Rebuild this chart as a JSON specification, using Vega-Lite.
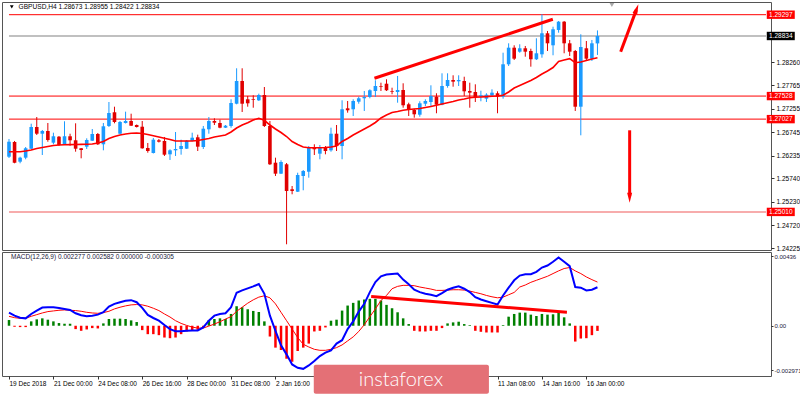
{
"$schema":"https://vega.github.io/schema/vega-lite/v6.json",
"padding":{"left":1,"top":1,"right":0,"bottom":0},
"background":"white",
"bounds":"flush",
"spacing":2,
"config":{"view":{"stroke":"#555555","strokeWidth":1},"font":"Liberation Sans"},
"datasets":{
"candles":[
{"i":0,"o":1.26210,"h":1.26595,"l":1.26182,"c":1.26536,"ma":1.26319},
{"i":1,"o":1.26530,"h":1.26552,"l":1.26067,"c":1.26080,"ma":1.26319},
{"i":2,"o":1.26102,"h":1.26210,"l":1.26067,"c":1.26189,"ma":1.26319},
{"i":3,"o":1.26189,"h":1.26421,"l":1.26154,"c":1.26393,"ma":1.26334},
{"i":4,"o":1.26384,"h":1.26928,"l":1.26378,"c":1.26856,"ma":1.26356},
{"i":5,"o":1.26856,"h":1.27073,"l":1.26682,"c":1.26710,"ma":1.26389},
{"i":6,"o":1.26710,"h":1.26791,"l":1.26247,"c":1.26769,"ma":1.26410},
{"i":7,"o":1.26769,"h":1.26943,"l":1.26536,"c":1.26573,"ma":1.26432},
{"i":8,"o":1.26515,"h":1.26732,"l":1.26480,"c":1.26654,"ma":1.26454},
{"i":9,"o":1.26645,"h":1.26660,"l":1.26443,"c":1.26465,"ma":1.26465},
{"i":10,"o":1.26480,"h":1.26980,"l":1.26465,"c":1.26654,"ma":1.26469},
{"i":11,"o":1.26654,"h":1.26710,"l":1.26449,"c":1.26567,"ma":1.26473},
{"i":12,"o":1.26567,"h":1.26936,"l":1.26319,"c":1.26384,"ma":1.26476},
{"i":13,"o":1.26393,"h":1.26399,"l":1.26175,"c":1.26356,"ma":1.26478},
{"i":14,"o":1.26428,"h":1.26610,"l":1.26378,"c":1.26573,"ma":1.26480},
{"i":15,"o":1.26558,"h":1.26812,"l":1.26552,"c":1.26704,"ma":1.26487},
{"i":16,"o":1.26704,"h":1.26726,"l":1.26465,"c":1.26480,"ma":1.26508},
{"i":17,"o":1.26480,"h":1.26943,"l":1.26349,"c":1.26871,"ma":1.26541},
{"i":18,"o":1.26878,"h":1.27399,"l":1.26856,"c":1.27160,"ma":1.26606},
{"i":19,"o":1.27176,"h":1.27297,"l":1.26936,"c":1.26965,"ma":1.26649},
{"i":20,"o":1.26710,"h":1.26986,"l":1.26704,"c":1.26965,"ma":1.26682},
{"i":21,"o":1.26943,"h":1.27189,"l":1.26932,"c":1.26986,"ma":1.26704},
{"i":22,"o":1.26986,"h":1.27145,"l":1.26878,"c":1.26884,"ma":1.26721},
{"i":23,"o":1.26899,"h":1.26910,"l":1.26845,"c":1.26856,"ma":1.26726},
{"i":24,"o":1.26862,"h":1.26986,"l":1.26384,"c":1.26393,"ma":1.26713},
{"i":25,"o":1.26399,"h":1.26508,"l":1.26297,"c":1.26334,"ma":1.26693},
{"i":26,"o":1.26291,"h":1.26617,"l":1.26280,"c":1.26580,"ma":1.26665},
{"i":27,"o":1.26567,"h":1.26595,"l":1.26519,"c":1.26536,"ma":1.26639},
{"i":28,"o":1.26552,"h":1.26639,"l":1.26226,"c":1.26254,"ma":1.26612},
{"i":29,"o":1.26262,"h":1.26371,"l":1.26139,"c":1.26349,"ma":1.26584},
{"i":30,"o":1.26349,"h":1.26747,"l":1.26226,"c":1.26378,"ma":1.26552},
{"i":31,"o":1.26378,"h":1.26580,"l":1.26254,"c":1.26443,"ma":1.26552},
{"i":32,"o":1.26384,"h":1.26573,"l":1.26378,"c":1.26558,"ma":1.26552},
{"i":33,"o":1.26552,"h":1.26732,"l":1.26545,"c":1.26623,"ma":1.26552},
{"i":34,"o":1.26632,"h":1.26689,"l":1.26334,"c":1.26428,"ma":1.26562},
{"i":35,"o":1.26421,"h":1.26878,"l":1.26378,"c":1.26819,"ma":1.26584},
{"i":36,"o":1.26806,"h":1.27073,"l":1.26710,"c":1.26986,"ma":1.26606},
{"i":37,"o":1.26986,"h":1.27045,"l":1.26899,"c":1.26949,"ma":1.26639},
{"i":38,"o":1.26943,"h":1.27015,"l":1.26828,"c":1.26841,"ma":1.26660},
{"i":39,"o":1.26841,"h":1.26899,"l":1.26834,"c":1.26884,"ma":1.26682},
{"i":40,"o":1.26878,"h":1.27458,"l":1.26841,"c":1.27378,"ma":1.26747},
{"i":41,"o":1.27362,"h":1.28132,"l":1.27349,"c":1.27856,"ma":1.26834},
{"i":42,"o":1.27856,"h":1.28132,"l":1.27182,"c":1.27362,"ma":1.26899},
{"i":43,"o":1.27458,"h":1.27530,"l":1.27297,"c":1.27371,"ma":1.26949},
{"i":44,"o":1.27458,"h":1.27545,"l":1.27275,"c":1.27443,"ma":1.27008},
{"i":45,"o":1.27436,"h":1.27580,"l":1.27421,"c":1.27552,"ma":1.27045},
{"i":46,"o":1.27552,"h":1.27725,"l":1.26856,"c":1.26878,"ma":1.27002},
{"i":47,"o":1.26878,"h":1.26986,"l":1.26030,"c":1.26045,"ma":1.26899},
{"i":48,"o":1.26080,"h":1.26189,"l":1.25791,"c":1.25841,"ma":1.26812},
{"i":49,"o":1.25841,"h":1.26132,"l":1.25834,"c":1.26095,"ma":1.26736},
{"i":50,"o":1.26045,"h":1.26073,"l":1.24306,"c":1.25465,"ma":1.26649},
{"i":51,"o":1.25502,"h":1.25573,"l":1.25393,"c":1.25465,"ma":1.26541},
{"i":52,"o":1.25449,"h":1.25862,"l":1.25443,"c":1.25812,"ma":1.26476},
{"i":53,"o":1.25791,"h":1.25921,"l":1.25480,"c":1.25899,"ma":1.26421},
{"i":54,"o":1.25884,"h":1.26443,"l":1.25754,"c":1.26421,"ma":1.26406},
{"i":55,"o":1.26421,"h":1.26480,"l":1.26247,"c":1.26371,"ma":1.26406},
{"i":56,"o":1.26276,"h":1.26465,"l":1.26154,"c":1.26406,"ma":1.26406},
{"i":57,"o":1.26421,"h":1.26443,"l":1.26262,"c":1.26334,"ma":1.26410},
{"i":58,"o":1.26349,"h":1.26841,"l":1.26319,"c":1.26710,"ma":1.26421},
{"i":59,"o":1.26710,"h":1.26899,"l":1.26334,"c":1.26443,"ma":1.26443},
{"i":60,"o":1.26443,"h":1.27436,"l":1.26154,"c":1.27241,"ma":1.26541},
{"i":61,"o":1.27262,"h":1.27421,"l":1.27167,"c":1.27219,"ma":1.26606},
{"i":62,"o":1.27241,"h":1.27458,"l":1.27095,"c":1.27421,"ma":1.26682},
{"i":63,"o":1.27406,"h":1.27515,"l":1.27362,"c":1.27480,"ma":1.26747},
{"i":64,"o":1.27480,"h":1.27639,"l":1.27204,"c":1.27508,"ma":1.26812},
{"i":65,"o":1.27508,"h":1.27675,"l":1.27480,"c":1.27654,"ma":1.26878},
{"i":66,"o":1.27639,"h":1.27871,"l":1.27508,"c":1.27747,"ma":1.26954},
{"i":67,"o":1.27747,"h":1.27819,"l":1.27639,"c":1.27732,"ma":1.27052},
{"i":68,"o":1.27797,"h":1.27893,"l":1.27639,"c":1.27654,"ma":1.27117},
{"i":69,"o":1.27639,"h":1.27710,"l":1.27567,"c":1.27623,"ma":1.27171},
{"i":70,"o":1.27617,"h":1.27965,"l":1.27384,"c":1.27660,"ma":1.27193},
{"i":71,"o":1.27660,"h":1.27806,"l":1.27275,"c":1.27328,"ma":1.27219},
{"i":72,"o":1.27349,"h":1.27384,"l":1.27095,"c":1.27225,"ma":1.27236},
{"i":73,"o":1.27225,"h":1.27254,"l":1.27058,"c":1.27132,"ma":1.27247},
{"i":74,"o":1.27123,"h":1.27415,"l":1.27080,"c":1.27371,"ma":1.27258},
{"i":75,"o":1.27362,"h":1.27458,"l":1.27312,"c":1.27421,"ma":1.27280},
{"i":76,"o":1.27399,"h":1.27762,"l":1.27312,"c":1.27530,"ma":1.27302},
{"i":77,"o":1.27515,"h":1.27589,"l":1.27154,"c":1.27341,"ma":1.27328},
{"i":78,"o":1.27341,"h":1.28023,"l":1.27328,"c":1.27747,"ma":1.27356},
{"i":79,"o":1.27747,"h":1.28023,"l":1.27710,"c":1.27878,"ma":1.27382},
{"i":80,"o":1.27878,"h":1.27980,"l":1.27732,"c":1.27841,"ma":1.27410},
{"i":81,"o":1.27849,"h":1.27980,"l":1.27747,"c":1.27878,"ma":1.27443},
{"i":82,"o":1.27856,"h":1.27949,"l":1.27530,"c":1.27632,"ma":1.27465},
{"i":83,"o":1.27639,"h":1.27819,"l":1.27275,"c":1.27602,"ma":1.27493},
{"i":84,"o":1.27617,"h":1.27784,"l":1.27399,"c":1.27502,"ma":1.27502},
{"i":85,"o":1.27515,"h":1.27645,"l":1.27415,"c":1.27545,"ma":1.27508},
{"i":86,"o":1.27471,"h":1.27589,"l":1.27399,"c":1.27558,"ma":1.27515},
{"i":87,"o":1.27545,"h":1.27675,"l":1.27515,"c":1.27602,"ma":1.27523},
{"i":88,"o":1.27589,"h":1.27632,"l":1.27154,"c":1.27515,"ma":1.27530},
{"i":89,"o":1.27515,"h":1.28471,"l":1.27471,"c":1.28219,"ma":1.27545},
{"i":90,"o":1.28219,"h":1.28675,"l":1.28182,"c":1.28580,"ma":1.27617},
{"i":91,"o":1.28580,"h":1.28632,"l":1.28312,"c":1.28341,"ma":1.27704},
{"i":92,"o":1.28493,"h":1.28654,"l":1.28471,"c":1.28567,"ma":1.27758},
{"i":93,"o":1.28567,"h":1.28617,"l":1.28384,"c":1.28493,"ma":1.27812},
{"i":94,"o":1.28508,"h":1.28558,"l":1.28167,"c":1.28328,"ma":1.27867},
{"i":95,"o":1.28328,"h":1.28784,"l":1.28312,"c":1.28458,"ma":1.27932},
{"i":96,"o":1.28436,"h":1.29306,"l":1.28362,"c":1.28893,"ma":1.28008},
{"i":97,"o":1.28893,"h":1.28943,"l":1.28508,"c":1.28675,"ma":1.28073},
{"i":98,"o":1.28632,"h":1.29036,"l":1.28415,"c":1.28980,"ma":1.28149},
{"i":99,"o":1.28965,"h":1.29160,"l":1.28906,"c":1.29145,"ma":1.28280},
{"i":100,"o":1.29145,"h":1.29160,"l":1.28458,"c":1.28675,"ma":1.28312},
{"i":101,"o":1.28675,"h":1.28747,"l":1.28399,"c":1.28493,"ma":1.28341},
{"i":102,"o":1.28508,"h":1.28530,"l":1.27204,"c":1.27297,"ma":1.28254},
{"i":103,"o":1.27297,"h":1.28871,"l":1.26675,"c":1.28595,"ma":1.28269},
{"i":104,"o":1.28567,"h":1.28725,"l":1.28291,"c":1.28341,"ma":1.28302},
{"i":105,"o":1.28341,"h":1.28747,"l":1.28291,"c":1.28675,"ma":1.28334},
{"i":106,"o":1.28673,"h":1.28955,"l":1.28422,"c":1.28834,"ma":1.28362}
],
"macd":[
{"i":0,"m":0.000776,"s":0.000557,"hist":0.000338},
{"i":1,"m":0.000597,"s":0.000478,"hist":-0.00006},
{"i":2,"m":0.000478,"s":0.000438,"hist":-0.00008},
{"i":3,"m":0.000438,"s":0.000438,"hist":-0.00008},
{"i":4,"m":0.000697,"s":0.000557,"hist":0.000259},
{"i":5,"m":0.000896,"s":0.000657,"hist":0.000378},
{"i":6,"m":0.001075,"s":0.000756,"hist":0.000438},
{"i":7,"m":0.001095,"s":0.000836,"hist":0.000358},
{"i":8,"m":0.001095,"s":0.000876,"hist":0.000259},
{"i":9,"m":0.001055,"s":0.000915,"hist":0.000159},
{"i":10,"m":0.000995,"s":0.000935,"hist":0.000119},
{"i":11,"m":0.000935,"s":0.000915,"hist":0.000119},
{"i":12,"m":0.000736,"s":0.000896,"hist":-0.000199},
{"i":13,"m":0.000617,"s":0.000856,"hist":-0.000299},
{"i":14,"m":0.000557,"s":0.000796,"hist":-0.000219},
{"i":15,"m":0.000597,"s":0.000756,"hist":-0.000139},
{"i":16,"m":0.000657,"s":0.000736,"hist":-0.000159},
{"i":17,"m":0.000796,"s":0.000776,"hist":0.000139},
{"i":18,"m":0.001134,"s":0.000856,"hist":0.000398},
{"i":19,"m":0.001294,"s":0.000995,"hist":0.000418},
{"i":20,"m":0.001393,"s":0.001095,"hist":0.000418},
{"i":21,"m":0.001473,"s":0.001174,"hist":0.000398},
{"i":22,"m":0.001512,"s":0.001234,"hist":0.000318},
{"i":23,"m":0.001393,"s":0.001254,"hist":0.000219},
{"i":24,"m":0.001055,"s":0.001234,"hist":-0.000259},
{"i":25,"m":0.000637,"s":0.001154,"hist":-0.000498},
{"i":26,"m":0.000458,"s":0.001035,"hist":-0.000498},
{"i":27,"m":0.000299,"s":0.000896,"hist":-0.000557},
{"i":28,"m":0.00004,"s":0.000697,"hist":-0.000697},
{"i":29,"m":-0.000199,"s":0.000517,"hist":-0.000736},
{"i":30,"m":-0.000318,"s":0.000299,"hist":-0.000697},
{"i":31,"m":-0.000318,"s":0.000139,"hist":-0.000498},
{"i":32,"m":-0.000299,"s":0.00002,"hist":-0.000338},
{"i":33,"m":-0.000279,"s":-0.00008,"hist":-0.000259},
{"i":34,"m":-0.000279,"s":-0.000139,"hist":-0.000239},
{"i":35,"m":-0.0001,"s":-0.000139,"hist":-0.0001},
{"i":36,"m":0.000299,"s":-0.00002,"hist":0.000338},
{"i":37,"m":0.000597,"s":0.0001,"hist":0.000398},
{"i":38,"m":0.000697,"s":0.000239,"hist":0.000438},
{"i":39,"m":0.000736,"s":0.000398,"hist":0.000398},
{"i":40,"m":0.001095,"s":0.000537,"hist":0.000697},
{"i":41,"m":0.00195,"s":0.000856,"hist":0.001154},
{"i":42,"m":0.00209,"s":0.001095,"hist":0.001095},
{"i":43,"m":0.002209,"s":0.001333,"hist":0.000975},
{"i":44,"m":0.002328,"s":0.001532,"hist":0.000876},
{"i":45,"m":0.002468,"s":0.001692,"hist":0.000816},
{"i":46,"m":0.001891,"s":0.001771,"hist":0.000259},
{"i":47,"m":0.000597,"s":0.001652,"hist":-0.000637},
{"i":48,"m":-0.000299,"s":0.001294,"hist":-0.001294},
{"i":49,"m":-0.001154,"s":0.000796,"hist":-0.001433},
{"i":50,"m":-0.001692,"s":0.000299,"hist":-0.00195},
{"i":51,"m":-0.002289,"s":-0.000199,"hist":-0.002129},
{"i":52,"m":-0.002488,"s":-0.000697,"hist":-0.001493},
{"i":53,"m":-0.002547,"s":-0.001095,"hist":-0.001294},
{"i":54,"m":-0.002348,"s":-0.001254,"hist":-0.001055},
{"i":55,"m":-0.00209,"s":-0.001393,"hist":-0.000338},
{"i":56,"m":-0.001791,"s":-0.001453,"hist":-0.000299},
{"i":57,"m":-0.001592,"s":-0.001453,"hist":-0.0001},
{"i":58,"m":-0.001453,"s":-0.001393,"hist":0.000299},
{"i":59,"m":-0.001055,"s":-0.001294,"hist":0.000358},
{"i":60,"m":-0.000856,"s":-0.001134,"hist":0.000896},
{"i":61,"m":-0.000199,"s":-0.000896,"hist":0.001194},
{"i":62,"m":0.000259,"s":-0.000657,"hist":0.001353},
{"i":63,"m":0.000836,"s":-0.000338,"hist":0.001493},
{"i":64,"m":0.001294,"s":0.00006,"hist":0.001552},
{"i":65,"m":0.00199,"s":0.000537,"hist":0.001592},
{"i":66,"m":0.002587,"s":0.000995,"hist":0.001592},
{"i":67,"m":0.002925,"s":0.001493,"hist":0.001493},
{"i":68,"m":0.003025,"s":0.001791,"hist":0.001234},
{"i":69,"m":0.003065,"s":0.002189,"hist":0.001035},
{"i":70,"m":0.003085,"s":0.002328,"hist":0.000796},
{"i":71,"m":0.002726,"s":0.002388,"hist":0.000438},
{"i":72,"m":0.002448,"s":0.002388,"hist":0.0001},
{"i":73,"m":0.002129,"s":0.002368,"hist":-0.000299},
{"i":74,"m":0.00199,"s":0.002289,"hist":-0.000338},
{"i":75,"m":0.001891,"s":0.002229,"hist":-0.000338},
{"i":76,"m":0.001831,"s":0.002169,"hist":-0.000299},
{"i":77,"m":0.001751,"s":0.00209,"hist":-0.000299},
{"i":78,"m":0.00193,"s":0.00209,"hist":-0.000139},
{"i":79,"m":0.002129,"s":0.002109,"hist":0.000139},
{"i":80,"m":0.002249,"s":0.002129,"hist":0.000199},
{"i":81,"m":0.002328,"s":0.002129,"hist":0.000239},
{"i":82,"m":0.002189,"s":0.002109,"hist":0.0001},
{"i":83,"m":0.00199,"s":0.00205,"hist":0.00004},
{"i":84,"m":0.001692,"s":0.00197,"hist":-0.000299},
{"i":85,"m":0.001552,"s":0.001891,"hist":-0.000358},
{"i":86,"m":0.001453,"s":0.001791,"hist":-0.000398},
{"i":87,"m":0.001353,"s":0.001711,"hist":-0.000398},
{"i":88,"m":0.001254,"s":0.001652,"hist":-0.000398},
{"i":89,"m":0.00179,"s":0.001692,"hist":0.00004},
{"i":90,"m":0.002249,"s":0.001831,"hist":0.000537},
{"i":91,"m":0.002687,"s":0.00197,"hist":0.000697},
{"i":92,"m":0.002965,"s":0.002289,"hist":0.000776},
{"i":93,"m":0.003045,"s":0.002408,"hist":0.000776},
{"i":94,"m":0.003045,"s":0.002567,"hist":0.000657},
{"i":95,"m":0.003184,"s":0.002687,"hist":0.000577},
{"i":96,"m":0.003443,"s":0.002806,"hist":0.000697},
{"i":97,"m":0.003562,"s":0.002925,"hist":0.000657},
{"i":98,"m":0.003781,"s":0.003085,"hist":0.000677},
{"i":99,"m":0.00404,"s":0.003244,"hist":0.000836},
{"i":100,"m":0.003781,"s":0.003383,"hist":0.000498},
{"i":101,"m":0.003522,"s":0.003443,"hist":0.000139},
{"i":102,"m":0.002289,"s":0.003244,"hist":-0.000935},
{"i":103,"m":0.002249,"s":0.003085,"hist":-0.000756},
{"i":104,"m":0.00209,"s":0.002886,"hist":-0.000736},
{"i":105,"m":0.002129,"s":0.002726,"hist":-0.000557},
{"i":106,"m":0.002277,"s":0.002582,"hist":-0.000305}
],
"levels":[
{"p":1.29297,"t":"level"},
{"p":1.27528,"t":"level"},
{"p":1.27027,"t":"level"},
{"p":1.25010,"t":"weak"},
{"p":1.28834,"t":"price"}
]
},
"vconcat":[
{
"width":769,"height":248,
"resolve":{"axis":{"y":"independent"}},
"layer":[
{"data":{"name":"levels"},"mark":{"type":"rule"},
 "encoding":{
  "x":{"datum":0,"type":"quantitative","scale":{"domain":[-0.36,136.36],"nice":false,"zero":false},"axis":null},
  "x2":{"datum":136.36},
  "y":{"field":"p","type":"quantitative","scale":{"domain":[1.24182,1.29573],"nice":false,"zero":false},
   "axis":{"orient":"right","values":[1.2826,1.27765,1.27255,1.26745,1.26235,1.2574,1.2523,1.2472,1.24225],"format":".5f","title":null,"grid":false,"domain":false,"ticks":true,"tickSize":3,"tickColor":"#333333","labelPadding":2,"labelFontSize":6.5,"labelFont":"Liberation Sans","labelColor":"#000000","labelAlign":"left","labelBaseline":"middle","labelFlush":false,"labelOverlap":false}},
  "color":{"field":"t","type":"nominal","scale":{"domain":["level","weak","price"],"range":["#ff0000","#f59090","#c0c0c0"]},"legend":null},
  "strokeWidth":{"field":"t","type":"nominal","scale":{"domain":["level","weak","price"],"range":[1,2,1]},"legend":null}
 }},
{"data":{"name":"candles"},"mark":{"type":"rule","strokeWidth":1},
 "encoding":{
  "x":{"field":"i","type":"quantitative","scale":{"domain":[-0.36,136.36],"nice":false,"zero":false},"axis":null},
  "y":{"field":"l","type":"quantitative","scale":{"domain":[1.24182,1.29573],"nice":false,"zero":false},"axis":null},
  "y2":{"field":"h"},
  "color":{"condition":{"test":"datum.c >= datum.o","value":"#1a9aff"},"value":"#e00000"}
 }},
{"data":{"name":"candles"},"mark":{"type":"bar"},
 "encoding":{
  "x":{"field":"i","type":"quantitative","scale":{"domain":[-0.36,136.36],"nice":false,"zero":false},"axis":null},
  "y":{"field":"o","type":"quantitative","scale":{"domain":[1.24182,1.29573],"nice":false,"zero":false},"axis":null},
  "y2":{"field":"c"},
  "size":{"value":3.6},
  "color":{"condition":{"test":"datum.c >= datum.o","value":"#1a9aff"},"value":"#e00000"}
 }},
{"data":{"name":"candles"},"mark":{"type":"line","color":"#ff0000","strokeWidth":1.6},
 "encoding":{
  "x":{"field":"i","type":"quantitative","scale":{"domain":[-0.36,136.36],"nice":false,"zero":false},"axis":null},
  "y":{"field":"ma","type":"quantitative","scale":{"domain":[1.24182,1.29573],"nice":false,"zero":false},"axis":null}
 }},
{"data":{"values":[
  {"g":"trend","i":65.83,"p":1.27915},{"g":"trend","i":97.96,"p":1.29197},
  {"g":"up","i":110.18,"p":1.28493},{"g":"up","i":113.0,"p":1.29402},
  {"g":"down","i":111.8,"p":1.26784},{"g":"down","i":111.8,"p":1.25356}]},
 "mark":{"type":"line","color":"#ff0000","strokeWidth":3},
 "encoding":{
  "x":{"field":"i","type":"quantitative","scale":{"domain":[-0.36,136.36],"nice":false,"zero":false},"axis":null},
  "y":{"field":"p","type":"quantitative","scale":{"domain":[1.24182,1.29573],"nice":false,"zero":false},"axis":null},
  "detail":{"field":"g"}
 }},
{"data":{"values":[{"i":113.38,"p":1.29523}]},
 "mark":{"type":"point","shape":"M0,0L0.5,2L-0.5,2Z","filled":true,"color":"#ff0000","opacity":1,"size":100,"angle":20.8},
 "encoding":{
  "x":{"field":"i","type":"quantitative","scale":{"domain":[-0.36,136.36],"nice":false,"zero":false},"axis":null},
  "y":{"field":"p","type":"quantitative","scale":{"domain":[1.24182,1.29573],"nice":false,"zero":false},"axis":null}
 }},
{"data":{"values":[{"i":111.8,"p":1.25210}]},
 "mark":{"type":"point","shape":"M0,0L0.5,2L-0.5,2Z","filled":true,"color":"#ff0000","opacity":1,"size":100,"angle":180},
 "encoding":{
  "x":{"field":"i","type":"quantitative","scale":{"domain":[-0.36,136.36],"nice":false,"zero":false},"axis":null},
  "y":{"field":"p","type":"quantitative","scale":{"domain":[1.24182,1.29573],"nice":false,"zero":false},"axis":null}
 }},
{"data":{"values":[{"i":108.6,"p":1.29508}]},
 "mark":{"type":"point","shape":"triangle-down","filled":true,"color":"#a8a8a8","opacity":1,"size":22},
 "encoding":{
  "x":{"field":"i","type":"quantitative","scale":{"domain":[-0.36,136.36],"nice":false,"zero":false},"axis":null},
  "y":{"field":"p","type":"quantitative","scale":{"domain":[1.24182,1.29573],"nice":false,"zero":false},"axis":null}
 }},
{"data":{"values":[{"i":0.5,"p":1.29465}]},
 "mark":{"type":"point","shape":"triangle-down","filled":true,"color":"#000000","opacity":1,"size":14},
 "encoding":{
  "x":{"field":"i","type":"quantitative","scale":{"domain":[-0.36,136.36],"nice":false,"zero":false},"axis":null},
  "y":{"field":"p","type":"quantitative","scale":{"domain":[1.24182,1.29573],"nice":false,"zero":false},"axis":null}
 }},
{"data":{"values":[{"txt":"GBPUSD,H4  1.28673 1.28955 1.28422 1.28834"}]},
 "mark":{"type":"text","align":"left","baseline":"middle","font":"Liberation Sans","fontSize":6.6,"color":"#000000"},
 "encoding":{
  "x":{"datum":1.72,"type":"quantitative","scale":{"domain":[-0.36,136.36],"nice":false,"zero":false},"axis":null},
  "y":{"datum":1.29465,"type":"quantitative","scale":{"domain":[1.24182,1.29573],"nice":false,"zero":false},"axis":null},
  "text":{"field":"txt"}
 }},
{"data":{"name":"levels"},
 "mark":{"type":"point","shape":"M-1,-0.3L1,-0.3L1,0.3L-1,0.3Z","filled":true,"opacity":1,"size":784,"strokeWidth":0},
 "encoding":{
  "x":{"datum":139.02,"type":"quantitative","scale":{"domain":[-0.36,136.36],"nice":false,"zero":false},"axis":null},
  "y":{"field":"p","type":"quantitative","scale":{"domain":[1.24182,1.29573],"nice":false,"zero":false},"axis":null},
  "fill":{"field":"t","type":"nominal","scale":{"domain":["level","weak","price"],"range":["#ff0000","#ff0000","#000000"]},"legend":null}
 }},
{"data":{"name":"levels"},
 "mark":{"type":"text","align":"center","baseline":"middle","font":"Liberation Sans","fontSize":6.5,"color":"#ffffff"},
 "encoding":{
  "x":{"datum":139.02,"type":"quantitative","scale":{"domain":[-0.36,136.36],"nice":false,"zero":false},"axis":null},
  "y":{"field":"p","type":"quantitative","scale":{"domain":[1.24182,1.29573],"nice":false,"zero":false},"axis":null},
  "text":{"field":"p","type":"quantitative","format":".5f"}
 }}
]
},
{
"width":769,"height":124,
"resolve":{"axis":{"x":"independent","y":"independent"}},
"layer":[
{"data":{"name":"macd"},"mark":{"type":"bar"},
 "encoding":{
  "x":{"field":"i","type":"quantitative","scale":{"domain":[-0.36,136.36],"nice":false,"zero":false},
   "axis":{"values":[0,8,16,24,32,40,48,88,96,104],"labelExpr":"['19 Dec 2018','21 Dec 00:00','24 Dec 08:00','26 Dec 16:00','28 Dec 00:00','31 Dec 08:00','2 Jan 16:00','4 Jan 00:00','7 Jan 08:00','8 Jan 16:00','10 Jan 00:00','11 Jan 08:00','14 Jan 16:00','16 Jan 00:00'][round(datum.value/8)]","title":null,"grid":false,"domain":false,"ticks":true,"tickSize":3,"tickColor":"#333333","labelPadding":1,"labelAlign":"left","labelBaseline":"top","labelFlush":false,"labelOverlap":false,"labelFontSize":6.5,"labelFont":"Liberation Sans","labelColor":"#000000"}},
  "y":{"field":"hist","type":"quantitative","scale":{"domain":[-0.002971,0.00436],"nice":false,"zero":false},
   "axis":{"orient":"right","values":[0.00412,0,-0.00263],"labelExpr":"datum.value == 0 ? '0.00' : (datum.value > 0 ? '0.00436' : '-0.002971')","title":null,"grid":false,"domain":false,"ticks":true,"tickSize":2,"tickColor":"#333333","labelPadding":1,"labelFontSize":6,"labelFont":"Liberation Sans","labelColor":"#1a1a3a","labelAlign":"left","labelBaseline":"middle","labelFlush":false,"labelOverlap":false}},
  "y2":{"datum":0},
  "size":{"value":2.5},
  "color":{"condition":{"test":"datum.hist > 0","value":"#008000"},"value":"#ff0000"}
 }},
{"data":{"name":"macd"},"mark":{"type":"line","color":"#ff0000","strokeWidth":1},
 "encoding":{
  "x":{"field":"i","type":"quantitative","scale":{"domain":[-0.36,136.36],"nice":false,"zero":false},"axis":null},
  "y":{"field":"s","type":"quantitative","scale":{"domain":[-0.002971,0.00436],"nice":false,"zero":false},"axis":null}
 }},
{"data":{"name":"macd"},"mark":{"type":"line","color":"#0000ff","strokeWidth":2},
 "encoding":{
  "x":{"field":"i","type":"quantitative","scale":{"domain":[-0.36,136.36],"nice":false,"zero":false},"axis":null},
  "y":{"field":"m","type":"quantitative","scale":{"domain":[-0.002971,0.00436],"nice":false,"zero":false},"axis":null}
 }},
{"data":{"values":[{"i":65.24,"v":0.001731},{"i":100.5,"v":0.000796}]},
 "mark":{"type":"line","color":"#ff0000","strokeWidth":3},
 "encoding":{
  "x":{"field":"i","type":"quantitative","scale":{"domain":[-0.36,136.36],"nice":false,"zero":false},"axis":null},
  "y":{"field":"v","type":"quantitative","scale":{"domain":[-0.002971,0.00436],"nice":false,"zero":false},"axis":null}
 }},
{"data":{"values":[{"txt":"MACD(12,26,9) 0.002277 0.002582 0.000000 -0.000305"}]},
 "mark":{"type":"text","align":"left","baseline":"middle","font":"Liberation Sans","fontSize":6.5,"color":"#1a1a3a"},
 "encoding":{
  "x":{"datum":0.36,"type":"quantitative","scale":{"domain":[-0.36,136.36],"nice":false,"zero":false},"axis":null},
  "y":{"datum":0.00406,"type":"quantitative","scale":{"domain":[-0.002971,0.00436],"nice":false,"zero":false},"axis":null},
  "text":{"field":"txt"}
 }},
{"data":{"values":[{"label":"instaforex"}]},
 "mark":{"type":"rect","fill":"#e47076","cornerRadius":2},
 "encoding":{
  "x":{"datum":54.9,"type":"quantitative","scale":{"domain":[-0.36,136.36],"nice":false,"zero":false},"axis":null},
  "x2":{"datum":86.45},
  "y":{"datum":-0.0023,"type":"quantitative","scale":{"domain":[-0.002971,0.00436],"nice":false,"zero":false},"axis":null},
  "y2":{"datum":-0.00402}
 }},
{"data":{"values":[{"label":"instaforex"}]},
 "mark":{"type":"text","align":"center","baseline":"middle","font":"Lato","fontWeight":300,"fontSize":20,"color":"#ffffff"},
 "encoding":{
  "x":{"datum":70.6,"type":"quantitative","scale":{"domain":[-0.36,136.36],"nice":false,"zero":false},"axis":null},
  "y":{"datum":-0.00318,"type":"quantitative","scale":{"domain":[-0.002971,0.00436],"nice":false,"zero":false},"axis":null},
  "text":{"field":"label"}
 }}
]
}
]
}
